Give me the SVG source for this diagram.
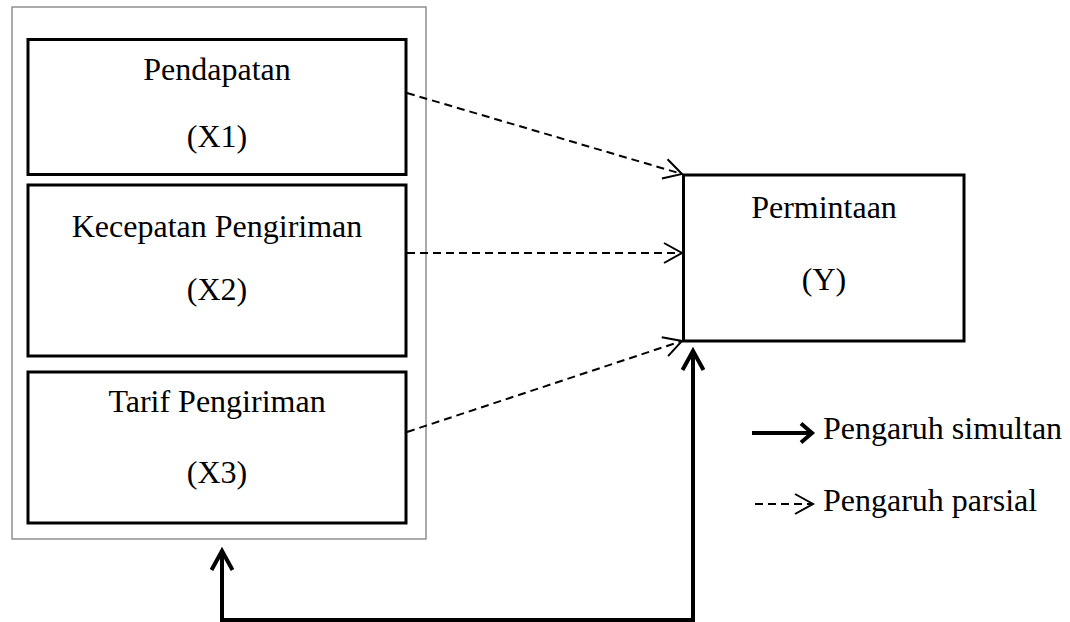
<svg xmlns="http://www.w3.org/2000/svg" width="1070" height="622" viewBox="0 0 1070 622">
  <style>
    .box { fill: #ffffff; stroke: #000000; stroke-width: 3; }
    .outer { fill: #ffffff; stroke: #7f7f7f; stroke-width: 1.3; }
    .lbl { font-family: "Liberation Serif", "Times New Roman", serif; font-size: 32px; fill: #000000; text-anchor: middle; }
    .leg { font-family: "Liberation Serif", "Times New Roman", serif; font-size: 32px; fill: #000000; }
    .dash { fill: none; stroke: #000000; stroke-width: 2; stroke-dasharray: 8 5; }
    .thick { fill: none; stroke: #000000; stroke-width: 4; }
  </style>
  <defs>
    <marker id="openHead" markerUnits="userSpaceOnUse" viewBox="-22 -12 24 24" markerWidth="24" markerHeight="24" refX="0" refY="0" orient="auto" overflow="visible">
      <path d="M-18,-10 L0,0 L-18,10" fill="none" stroke="#000000" stroke-width="2"/>
    </marker>
    <marker id="thickHead" markerUnits="userSpaceOnUse" viewBox="-24 -14 28 28" markerWidth="28" markerHeight="28" refX="0" refY="0" orient="auto-start-reverse" overflow="visible">
      <path d="M-19,-10.5 L0,0 L-19,10.5" fill="none" stroke="#000000" stroke-width="4"/>
    </marker>
    <marker id="legHead" markerUnits="userSpaceOnUse" viewBox="-16 -12 20 24" markerWidth="20" markerHeight="24" refX="0" refY="0" orient="auto" overflow="visible">
      <path d="M-11,-9.5 L0,0 L-11,9.5" fill="none" stroke="#000000" stroke-width="4"/>
    </marker>
  </defs>

  <g id="outer-frame">
    <rect class="outer" x="12" y="7" width="414" height="532"/>
  </g>

  <g id="node-x1">
    <rect class="box" x="28" y="39.5" width="378" height="135"/>
    <text class="lbl" x="217" y="80">Pendapatan</text>
    <text class="lbl" x="217" y="147">(X1)</text>
  </g>

  <g id="node-x2">
    <rect class="box" x="28" y="185" width="378" height="171"/>
    <text class="lbl" x="217" y="237">Kecepatan Pengiriman</text>
    <text class="lbl" x="217" y="300">(X2)</text>
  </g>

  <g id="node-x3">
    <rect class="box" x="28" y="372" width="378" height="151"/>
    <text class="lbl" x="217" y="412">Tarif Pengiriman</text>
    <text class="lbl" x="217" y="483">(X3)</text>
  </g>

  <g id="node-y">
    <rect class="box" x="683.5" y="175" width="280.5" height="166"/>
    <text class="lbl" x="824" y="218">Permintaan</text>
    <text class="lbl" x="824" y="290">(Y)</text>
  </g>

  <g id="connectors">
    <line class="dash" x1="407" y1="93" x2="682" y2="174" marker-end="url(#openHead)"/>
    <line class="dash" x1="407" y1="253" x2="682" y2="253" marker-end="url(#openHead)"/>
    <line class="dash" x1="407" y1="432" x2="682" y2="341" marker-end="url(#openHead)"/>
    <path class="thick" d="M222,551 V620 H693 V351" marker-start="url(#thickHead)" marker-end="url(#thickHead)"/>
  </g>

  <g id="legend">
    <line class="thick" x1="752" y1="433" x2="812" y2="433" marker-end="url(#legHead)"/>
    <text class="leg" x="823" y="439">Pengaruh simultan</text>
    <line class="dash" x1="755" y1="504" x2="813" y2="504" marker-end="url(#openHead)"/>
    <text class="leg" x="823" y="511">Pengaruh parsial</text>
  </g>
</svg>
